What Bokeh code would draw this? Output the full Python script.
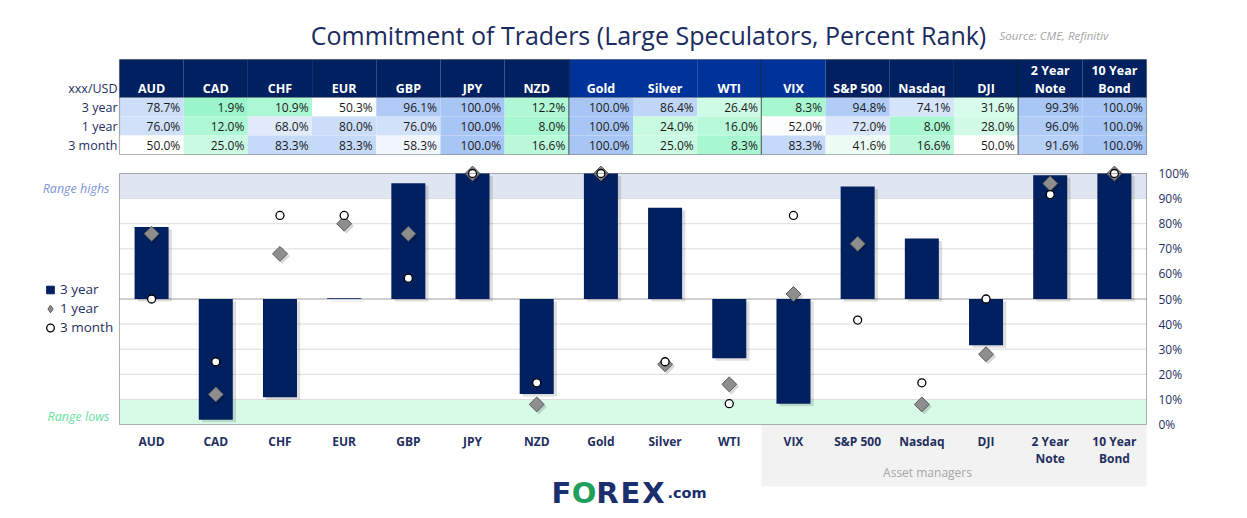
import math
from bokeh.plotting import figure
from bokeh.models import (ColumnDataSource, FactorRange, Range1d, BoxAnnotation, Label,
                          Legend, LegendItem)
from bokeh.core.properties import value
from bokeh.transform import dodge
from bokeh.embed import file_html
from bokeh.resources import INLINE

# ---------------- data ----------------
categories = ["AUD", "CAD", "CHF", "EUR", "GBP", "JPY", "NZD", "Gold", "Silver", "WTI",
              "VIX", "S&P 500", "Nasdaq", "DJI", "2 Year Note", "10 Year Bond"]
axis_labels = ["AUD", "CAD", "CHF", "EUR", "GBP", "JPY", "NZD", "Gold", "Silver", "WTI",
               "VIX", "S&P 500", "Nasdaq", "DJI", "2 Year\nNote", "10 Year\nBond"]
header_top = ["", "", "", "", "", "", "", "", "", "", "", "", "", "", "2 Year", "10 Year"]
header_bottom = ["AUD", "CAD", "CHF", "EUR", "GBP", "JPY", "NZD", "Gold", "Silver", "WTI",
                 "VIX", "S&P 500", "Nasdaq", "DJI", "Note", "Bond"]
three_year = [78.7, 1.9, 10.9, 50.3, 96.1, 100.0, 12.2, 100.0, 86.4, 26.4, 8.3, 94.8, 74.1, 31.6, 99.3, 100.0]
one_year = [76.0, 12.0, 68.0, 80.0, 76.0, 100.0, 8.0, 100.0, 24.0, 16.0, 52.0, 72.0, 8.0, 28.0, 96.0, 100.0]
three_month = [50.0, 25.0, 83.3, 83.3, 58.3, 100.0, 16.6, 100.0, 25.0, 8.3, 83.3, 41.6, 16.6, 50.0, 91.6, 100.0]
row_labels = ["3 year", "1 year", "3 month"]
y_ticks = [0, 10, 20, 30, 40, 50, 60, 70, 80, 90, 100]
y_tick_labels = ["0%", "10%", "20%", "30%", "40%", "50%", "60%", "70%", "80%", "90%", "100%"]
grid_ticks = [10, 20, 30, 40, 60, 70, 80, 90]
baseline = 50

# ---------------- styles / layout ----------------
NAVY = "#002060"
BRIGHT = "#003399"
TXT = "#1f2f5f"
FONT = "Open Sans"
W, H = 1247, 518
CX0, CX1 = 119.0, 1146.0      # plot-area edges in canvas pixels
CY0, CY1 = 173.0, 424.0
N = len(categories)
UNIT = (CX1 - CX0) / N        # pixels per category

def X(px):
    return (px - CX0) / UNIT
def Y(py):
    return (CY1 - py) / (CY1 - CY0) * 100.0

side = W - CX1                 # symmetric padding around the categories
left_border = CX0 - side
p = figure(width=W, height=H,
           x_range=FactorRange(factors=categories, range_padding=2 * side / (CX1 - CX0),
                               range_padding_units="percent"),
           y_range=Range1d(Y(H), Y(0)),
           output_backend="svg", toolbar_location=None,
           x_axis_location=None, y_axis_location=None,
           min_border_left=int(left_border), min_border_right=0, min_border_top=0,
           min_border_bottom=0)
p.background_fill_color = "white"
p.border_fill_color = "white"
p.outline_line_color = None
p.grid.visible = False

# range bands + asset-manager band
p.add_layout(BoxAnnotation(left=0, right=N, bottom=90, top=100, fill_color="#dfe5f1",
                           fill_alpha=1, line_color=None, level="underlay"))
p.add_layout(BoxAnnotation(left=0, right=N, bottom=0, top=10, fill_color="#d7fbe7",
                           fill_alpha=1, line_color=None, level="underlay"))
p.add_layout(BoxAnnotation(left=10, right=N, top=Y(424.5), bottom=Y(486), fill_color="#f2f2f2",
                           fill_alpha=1, line_color=None, level="underlay"))

# gridlines
p.segment(x0=[0] * len(grid_ticks), x1=[N] * len(grid_ticks), y0=grid_ticks, y1=grid_ticks,
          line_color="#dcdcdc", line_width=1)
p.segment(x0=[0], x1=[N], y0=[baseline], y1=[baseline], line_color="#bfbfbf", line_width=1.5)

src = ColumnDataSource(dict(
    cat=categories, lab=axis_labels, y3=three_year, y1=one_year, m3=three_month,
    base=[baseline] * N,
    sh_top=[v - 1.0 for v in three_year], sh_base=[baseline - 1.0] * N,
    sh_y1=[v - 0.9 for v in one_year],
))

# bar shadows + bars
p.vbar(x=dodge("cat", 0.05, range=p.x_range), top="sh_top", bottom="sh_base", width=0.53,
       source=src, fill_color="black", fill_alpha=0.13, line_color=None)
p.vbar(x="cat", top="y3", bottom="base", width=0.53, source=src,
       fill_color=NAVY, line_color=None)

# markers
p.scatter(x=dodge("cat", 0.035, range=p.x_range), y="sh_y1", source=src, marker="square",
          angle=math.pi / 4, size=11, fill_color="black", fill_alpha=0.15, line_color=None)
diam = p.scatter(x="cat", y="y1", source=src, marker="square", angle=math.pi / 4, size=10.5,
                 fill_color="#8e8e8e", line_color="#5a5a5a", line_width=1)
circ = p.scatter(x="cat", y="m3", source=src, marker="circle", size=8,
                 fill_color="white", line_color="black", line_width=1.3)
# legend-only glyphs (no data points)
sq = p.scatter(x=[0.5], y=[float("nan")], marker="square", size=9,
               fill_color=NAVY, line_color=NAVY)
dm = p.scatter(x=[0.5], y=[float("nan")], marker="diamond", size=10,
               fill_color="#8e8e8e", line_color="#5a5a5a", line_width=1)

# plot-area border
p.add_layout(BoxAnnotation(left=0, right=N, bottom=0, top=100, fill_alpha=0,
                           line_color="black", line_width=1, level="annotation"))

# category labels (x axis) and percent labels (right axis)
p.text(x="cat", y=Y(432.5), text="lab", source=src, text_align="center", text_baseline="top",
       text_font=value(FONT), text_font_style="bold", text_font_size=value("12px"),
       text_color=TXT, text_line_height=0.98)
p.text(x=[N + 12 / UNIT] * len(y_ticks), y=y_ticks, text=y_tick_labels, text_align="left",
       text_baseline="middle", text_font=value(FONT), text_font_size=value("12px"),
       text_color=TXT)

legend = Legend(items=[LegendItem(label=row_labels[0], renderers=[sq]),
                       LegendItem(label=row_labels[1], renderers=[dm]),
                       LegendItem(label=row_labels[2], renderers=[circ])],
                location=(40 - left_border, H - 336.5), orientation="vertical",
                background_fill_alpha=0, border_line_color=None, padding=0, margin=0,
                spacing=0, glyph_width=20, glyph_height=19, label_height=19,
                label_standoff=0, label_text_font_size="13.5px", label_text_color=TXT,
                label_text_font=FONT)
p.add_layout(legend)

# range labels
p.add_layout(Label(x=X(109), y=Y(188), text="Range highs", text_align="right",
                   text_baseline="middle", text_font=FONT, text_font_style="italic",
                   text_font_size="12.5px", text_color="#8094d6"))
p.add_layout(Label(x=X(109), y=Y(416), text="Range lows", text_align="right",
                   text_baseline="middle", text_font=FONT, text_font_style="italic",
                   text_font_size="12.5px", text_color="#66e2a2"))
p.add_layout(Label(x=X(927), y=Y(472), text="Asset managers", text_align="center",
                   text_baseline="middle", text_font=FONT, text_font_size="12px",
                   text_color="#a6a6a6"))

# title
p.add_layout(Label(x=X(648), y=Y(34), text="Commitment of Traders (Large Speculators, Percent Rank)",
                   text_align="center", text_baseline="middle", text_font=FONT,
                   text_font_size="25px", text_color="#1a2b5f"))
p.add_layout(Label(x=X(999), y=Y(35), text="Source: CME, Refinitiv", text_align="left",
                   text_baseline="middle", text_font=FONT, text_font_style="italic",
                   text_font_size="11.5px", text_color="#a6a6a6"))

# ---------------- table ----------------
def heat(v):
    lo = (150, 246, 200)
    hi = (168, 198, 245)
    if v < 50:
        t, c = (50 - v) / 50.0, lo
    else:
        t, c = (v - 50) / 50.0, hi
    r, g, b = [round(255 + (ci - 255) * t) for ci in c]
    return "#%02x%02x%02x" % (r, g, b)

HT, HB = 59, 97
row_edges = [97, 116, 135, 154]
header_colors = [NAVY] * 7 + [BRIGHT] * 4 + [NAVY] * 5
pad = 3.5 / UNIT

for i in range(N):
    p.add_layout(BoxAnnotation(left=i, right=i + 1, top=Y(HT), bottom=Y(HB),
                               fill_color=header_colors[i], fill_alpha=1, line_color=None,
                               level="annotation"))
for r, vals in enumerate([three_year, one_year, three_month]):
    for i, v in enumerate(vals):
        p.add_layout(BoxAnnotation(left=i, right=i + 1, top=Y(row_edges[r]),
                                   bottom=Y(row_edges[r + 1]), fill_color=heat(v), fill_alpha=1,
                                   line_color=None, level="annotation"))

for a, b in [(0, 7), (7, 10), (10, 14), (14, 16)]:
    p.add_layout(BoxAnnotation(left=a, right=b, top=Y(HT), bottom=Y(row_edges[-1]),
                               fill_alpha=0, line_color="black", line_width=1.2,
                               level="annotation"))
p.add_layout(BoxAnnotation(left=0, right=N, top=Y(HB), bottom=Y(HB), fill_alpha=0,
                           line_color="black", line_width=1.2, level="annotation"))

for i in range(N):
    if header_top[i]:
        p.add_layout(Label(x=i + 0.5, y=Y(70), text=header_top[i], text_align="center",
                           text_baseline="middle", text_font=FONT, text_font_style="bold",
                           text_font_size="12.5px", text_color="white"))
    p.add_layout(Label(x=i + 0.5, y=Y(88), text=header_bottom[i], text_align="center",
                       text_baseline="middle", text_font=FONT, text_font_style="bold",
                       text_font_size="12.5px", text_color="white"))

p.add_layout(Label(x=X(117), y=Y(88), text="xxx/USD", text_align="right", text_baseline="middle",
                   text_font=FONT, text_font_size="12.5px", text_color=TXT))
for r, vals in enumerate([three_year, one_year, three_month]):
    ym = Y((row_edges[r] + row_edges[r + 1]) / 2.0)
    p.add_layout(Label(x=X(117), y=ym, text=row_labels[r], text_align="right",
                       text_baseline="middle", text_font=FONT, text_font_size="12.5px",
                       text_color=TXT))
    for i, v in enumerate(vals):
        p.add_layout(Label(x=i + 1 - pad, y=ym, text="%.1f%%" % v, text_align="right",
                           text_baseline="middle", text_font=FONT, text_font_size="12px",
                           text_color="#1a1a1a"))

# logo (letters placed one by one to mimic the wide logotype)
LOGO = "#1b2f6e"
for txt, px, col, size, align in [("F", 561, LOGO, "29px", "center"),
                                  ("O", 583.5, "#1fa05a", "29px", "center"),
                                  ("R", 607, LOGO, "29px", "center"),
                                  ("E", 630, LOGO, "29px", "center"),
                                  ("X", 653, LOGO, "29px", "center"),
                                  (".com", 667, LOGO, "14.5px", "left")]:
    p.add_layout(Label(x=X(px), y=Y(492), text=txt, text_align=align,
                       text_baseline="alphabetic", text_font="DejaVu Sans",
                       text_font_style="bold", text_font_size=size, text_color=col))

open("out.html", "w").write(file_html(p, INLINE))
